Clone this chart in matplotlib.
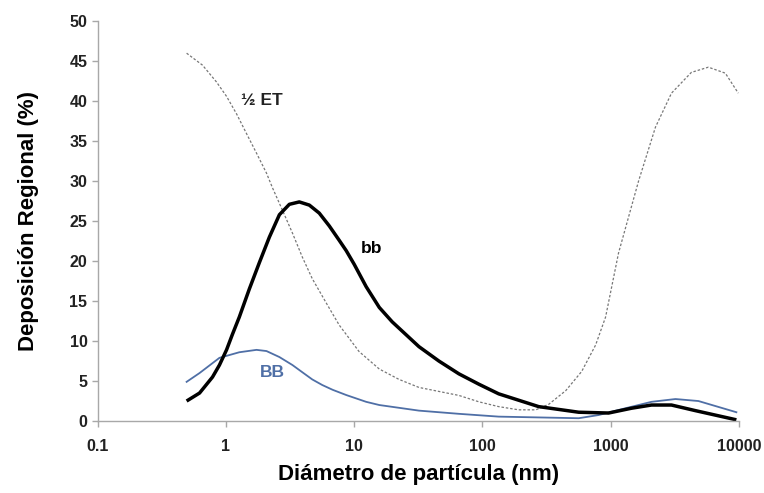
import matplotlib
matplotlib.use("Agg")
import matplotlib.pyplot as plt
from matplotlib.ticker import FixedLocator, FixedFormatter, NullLocator

plt.rcParams['font.family'] = ['Liberation Sans', 'DejaVu Sans']

# ½ ET (dotted)
et_x = [0.493, 0.656, 0.843, 1.01, 1.21, 1.44, 1.73, 2.07, 2.30, 2.75, 3.30, 3.94, 4.71, 6.06, 7.64,
        10.9, 15.7, 22.4, 32.0, 65.6, 94.0, 134, 192, 261, 330, 447, 595, 764, 914, 1153,
        1652, 2239, 2985, 4267, 5794, 7855, 9908]
et_y = [46.0, 44.5, 42.4, 40.6, 38.4, 36.0, 33.5, 31.0, 29.2, 26.4, 23.5, 20.5, 17.8, 14.75, 12.0,
        8.7, 6.5, 5.2, 4.2, 3.2, 2.4, 1.8, 1.4, 1.4, 2.1, 3.8, 6.2, 9.5, 13.0, 21.0,
        30.0, 36.75, 41.0, 43.6, 44.25, 43.5, 41.0]

# bb (thick black)
bb_x = [0.493, 0.622, 0.785, 0.889, 1.01, 1.12, 1.27, 1.52, 1.82, 2.18, 2.61, 3.12, 3.73, 4.47,
        5.34, 6.39, 7.64, 8.67, 10.0, 12.4, 15.7, 19.8, 32.0, 45.8, 65.6, 94.0, 134, 275,
        564, 964, 1456, 2084, 2985, 4584, 9575]
bb_y = [2.5, 3.5, 5.5, 7.0, 8.9, 10.8, 13.0, 16.5, 19.8, 23.0, 25.8, 27.1, 27.4, 27.0,
        26.0, 24.4, 22.6, 21.3, 19.6, 16.8, 14.2, 12.4, 9.3, 7.5, 5.9, 4.6, 3.4, 1.8,
        1.1, 1.0, 1.6, 2.0, 2.0, 1.3, 0.15]

# BB (blue)
BB_x = [0.493, 0.622, 0.889, 1.27, 1.73, 2.07, 2.61, 3.30, 3.94, 4.71, 5.64, 6.80, 8.67, 12.4,
        15.7, 32.0, 65.6, 134, 564, 807, 1309, 2084, 3206, 4844, 9575]
BB_y = [4.9, 6.0, 7.9, 8.6, 8.9, 8.75, 8.0, 7.0, 6.1, 5.2, 4.5, 3.9, 3.25, 2.4,
        2.0, 1.3, 0.9, 0.55, 0.35, 0.75, 1.6, 2.4, 2.75, 2.5, 1.1]

x_ticks = [0.1, 1, 10, 100, 1000, 10000]
x_tick_labels = ["0.1", "1", "10", "100", "1000", "10000"]
y_ticks = [0, 5, 10, 15, 20, 25, 30, 35, 40, 45, 50]

fig = plt.figure(figsize=(7.64, 4.93), dpi=100)
ax = fig.add_axes([0.128, 0.146, 0.839, 0.811])

ax.plot(et_x, et_y, color='#777777', lw=0.9, linestyle=(0, (2.0, 1.5)))
ax.plot(BB_x, BB_y, color='#4f6fa6', lw=1.3)
ax.plot(bb_x, bb_y, color='black', lw=2.5, solid_capstyle='butt', solid_joinstyle='round')

ax.set_xscale('log')
ax.set_xlim(0.1, 10000)
ax.set_ylim(0, 50)
ax.xaxis.set_major_locator(FixedLocator(x_ticks))
ax.xaxis.set_major_formatter(FixedFormatter(x_tick_labels))
ax.xaxis.set_minor_locator(NullLocator())
ax.set_yticks(y_ticks)

for s in ['top', 'right']:
    ax.spines[s].set_visible(False)
for s in ['left', 'bottom']:
    ax.spines[s].set_color('#a8a8a8')
    ax.spines[s].set_linewidth(1.0)
ax.tick_params(axis='both', colors='#a8a8a8', length=4, width=1.0,
               labelcolor='#222222', labelsize=11.5)
ax.tick_params(axis='x', pad=9)
for lab in ax.get_xticklabels() + ax.get_yticklabels():
    lab.set_fontweight('bold')

ax.set_xlabel('Diámetro de partícula (nm)', fontsize=16, fontweight='bold', labelpad=7)
ax.set_ylabel('Deposición Regional (%)', fontsize=16, fontweight='bold', labelpad=22)

ax.text(1.92, 40.1, '½ ET', fontsize=12.5, fontweight='bold', color='#222222', ha='center', va='center')
ax.text(13.6, 21.6, 'bb', fontsize=12.5, fontweight='bold', color='black', ha='center', va='center')
ax.text(2.30, 6.1, 'BB', fontsize=12.5, fontweight='bold', color='#4f6fa6', ha='center', va='center')

fig.savefig('out.png', dpi=100)
